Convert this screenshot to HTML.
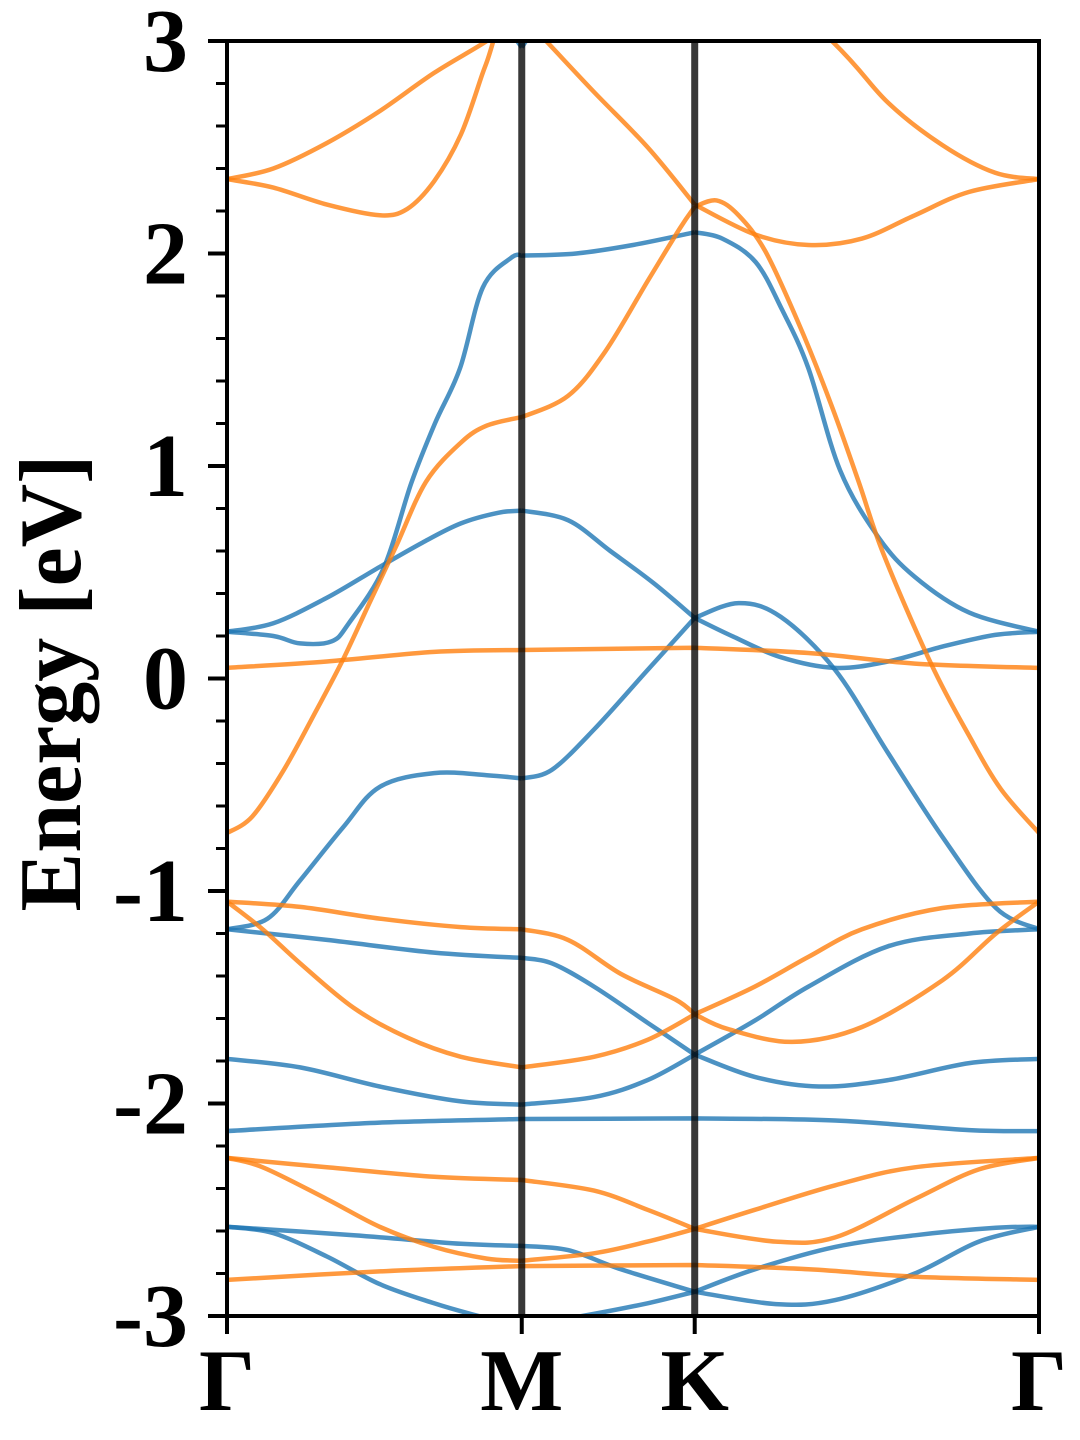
<!DOCTYPE html>
<html><head><meta charset="utf-8"><style>
html,body{margin:0;padding:0;background:#fff;}
svg{display:block;}
text{font-family:"Liberation Serif",serif;font-weight:bold;fill:#000;}
</style></head><body>
<svg id="chart" width="1080" height="1440" viewBox="0 0 1080 1440" xmlns="http://www.w3.org/2000/svg">
<defs><clipPath id="plotclip"><rect x="227" y="41" width="812" height="1275"/></clipPath></defs>
<g id="bands" clip-path="url(#plotclip)"></g>
<g id="axes"></g>
</svg>
<script>
// k-path tick positions (fraction of path) and labels
const kTicks = [0, 0.363, 0.576, 1];
const kLabels = ["Γ", "M", "K", "Γ"];
const yTicks = [-3, -2, -1, 0, 1, 2, 3];
const yTickLabels = ["-3", "-2", "-1", "0", "1", "2", "3"];
const yMin = -3, yMax = 3;
// band series: [k, E]
const bandA = [[0,2.35],[.057,2.40],[.123,2.52],[.188,2.67],[.255,2.85],[.320,3.0],[.363,3.12],[.393,3.0],[.452,2.76],[.518,2.50],[.576,2.23],[.650,2.09],[.716,2.04],[.782,2.07],[.847,2.18],[.914,2.29],[1,2.35]];
const bandB = [[0,2.35],[.057,2.31],[.123,2.23],[.188,2.18],[.222,2.21],[.255,2.34],[.288,2.56],[.314,2.84],[.328,3.0],[.363,3.5],[.576,3.6],[.745,3.0],[.814,2.71],[.881,2.51],[.946,2.38],[1,2.35]];
const bandC = [[.30,3.3],[.363,2.97],[.42,3.3]];
const bandD = [[0,.22],[.057,.20],[.09,.165],[.129,.175],[.150,.26],[.193,.52],[.227,.92],[.256,1.20],[.287,1.46],[.315,1.84],[.35,1.98],[.363,1.99],[.43,2.00],[.50,2.04],[.576,2.10],[.61,2.07],[.651,1.96],[.683,1.74],[.716,1.46],[.755,.98],[.802,.666],[.847,.478],[.914,.31],[1,.22]];
const bandE = [[0,-.727],[.031,-.65],[.070,-.43],[.110,-.15],[.143,.09],[.176,.36],[.208,.62],[.245,.925],[.288,1.11],[.320,1.19],[.363,1.23],[.420,1.33],[.466,1.54],[.518,1.87],[.558,2.12],[.576,2.22],[.603,2.25],[.630,2.18],[.663,2.01],[.703,1.68],[.743,1.30],[.778,.925],[.808,.59],[.867,.07],[.914,-.27],[.953,-.52],[1,-.727]];
const bandF = [[0,.22],[.057,.26],[.123,.38],[.188,.525],[.241,.64],[.288,.73],[.334,.78],[.363,.79],[.420,.745],[.472,.60],[.525,.45],[.576,.285],[.624,.196],[.682,.10],[.749,.05],[.814,.08],[.881,.15],[.946,.205],[1,.22]];
const bandG = [[0,-1.18],[.050,-1.13],[.090,-.95],[.143,-.70],[.188,-.51],[.255,-.445],[.320,-.455],[.363,-.47],[.400,-.43],[.452,-.24],[.518,.04],[.576,.285],[.630,.355],[.682,.29],[.749,.04],[.814,-.35],[.881,-.745],[.947,-1.08],[1,-1.18]];
const bandH = [[0,.05],[.123,.08],[.255,.125],[.363,.134],[.576,.145],[.716,.12],[.847,.07],[1,.05]];
const bandI = [[0,-1.05],[.090,-1.075],[.188,-1.13],[.288,-1.17],[.363,-1.18],[.420,-1.23],[.485,-1.39],[.552,-1.51],[.576,-1.58],[.617,-1.65],[.696,-1.71],[.782,-1.64],[.881,-1.42],[.947,-1.20],[1,-1.05]];
const bandJ = [[0,-1.05],[.044,-1.18],[.090,-1.34],[.156,-1.55],[.222,-1.69],[.288,-1.78],[.363,-1.83],[.452,-1.78],[.518,-1.70],[.576,-1.58],[.650,-1.45],[.716,-1.31],[.782,-1.18],[.881,-1.08],[1,-1.05]];
const bandK = [[0,-1.18],[.123,-1.23],[.255,-1.29],[.363,-1.315],[.400,-1.34],[.452,-1.45],[.518,-1.62],[.576,-1.77],[.650,-1.875],[.729,-1.92],[.814,-1.89],[.914,-1.81],[1,-1.79]];
const bandL = [[0,-1.79],[.090,-1.83],[.188,-1.92],[.288,-1.99],[.363,-2.005],[.452,-1.97],[.518,-1.89],[.576,-1.77],[.650,-1.61],[.716,-1.45],[.814,-1.26],[.914,-1.20],[1,-1.18]];
const bandM = [[0,-2.13],[.188,-2.09],[.363,-2.073],[.576,-2.07],[.749,-2.08],[.914,-2.125],[1,-2.13]];
const bandN = [[0,-2.256],[.123,-2.30],[.255,-2.345],[.363,-2.36],[.452,-2.41],[.518,-2.50],[.576,-2.59],[.676,-2.65],[.749,-2.63],[.847,-2.45],[.926,-2.31],[1,-2.256]];
const bandO = [[0,-2.256],[.044,-2.30],[.123,-2.45],[.188,-2.58],[.255,-2.675],[.320,-2.73],[.363,-2.74],[.452,-2.705],[.518,-2.65],[.576,-2.59],[.650,-2.50],[.749,-2.385],[.847,-2.30],[1,-2.256]];
const bandP = [[0,-2.83],[.188,-2.79],[.363,-2.765],[.576,-2.76],[.716,-2.78],[.847,-2.815],[1,-2.83]];
const bandQ = [[0,-2.58],[.156,-2.62],[.288,-2.66],[.363,-2.67],[.420,-2.69],[.485,-2.78],[.576,-2.886],[.676,-2.944],[.749,-2.925],[.847,-2.80],[.926,-2.65],[1,-2.58]];
const bandR = [[0,-2.58],[.057,-2.61],[.123,-2.72],[.188,-2.85],[.255,-2.94],[.300,-2.99],[.363,-3.05],[.452,-2.99],[.518,-2.94],[.576,-2.886],[.650,-2.78],[.749,-2.675],[.847,-2.62],[.947,-2.585],[1,-2.58]];
const blueBands = [bandC, bandD, bandF, bandG, bandK, bandL, bandM, bandQ, bandR];
const orangeBands = [bandA, bandB, bandE, bandH, bandI, bandJ, bandN, bandO, bandP];

const X0 = 227, X1 = 1039, Y0 = 1316, Y1 = 41;
function xs(k){ return X0 + k * (X1 - X0); }
function ys(e){ return Y0 - (e - yMin) / (yMax - yMin) * (Y0 - Y1); }
const NS = "http://www.w3.org/2000/svg";
function mk(tag, attrs, parent){ const el = document.createElementNS(NS, tag); for (const a in attrs) el.setAttribute(a, attrs[a]); parent.appendChild(el); return el; }

function smoothPath(pts){
  const segs = []; let cur = [pts[0]];
  for (let i = 1; i < pts.length; i++){
    cur.push(pts[i]);
    if (i < pts.length - 1 && (Math.abs(pts[i][0] - kTicks[1]) < 1e-6 || Math.abs(pts[i][0] - kTicks[2]) < 1e-6)){ segs.push(cur); cur = [pts[i]]; }
  }
  segs.push(cur);
  let d = "";
  segs.forEach(s => {
    const P = s.map(p => [xs(p[0]), ys(p[1])]);
    d += "M" + P[0][0].toFixed(1) + "," + P[0][1].toFixed(1);
    for (let i = 0; i < P.length - 1; i++){
      const p0 = P[i - 1] || P[i], p1 = P[i], p2 = P[i + 1], p3 = P[i + 2] || P[i + 1];
      const c1 = [p1[0] + (p2[0] - p0[0]) / 6, p1[1] + (p2[1] - p0[1]) / 6];
      const c2 = [p2[0] - (p3[0] - p1[0]) / 6, p2[1] - (p3[1] - p1[1]) / 6];
      d += "C" + c1[0].toFixed(1) + "," + c1[1].toFixed(1) + " " + c2[0].toFixed(1) + "," + c2[1].toFixed(1) + " " + p2[0].toFixed(1) + "," + p2[1].toFixed(1);
    }
  });
  return d;
}

const gB = document.getElementById("bands");
blueBands.forEach((b, i) => {
  const p = mk("path", {d: smoothPath(b), fill: "none", stroke: "#1f77b4", "stroke-width": 4.5, "stroke-opacity": 0.8, "stroke-linejoin": "round"}, gB);
  
  
});
orangeBands.forEach((b, i) => {
  const p = mk("path", {d: smoothPath(b), fill: "none", stroke: "#ff7f0e", "stroke-width": 4.5, "stroke-opacity": 0.8, "stroke-linejoin": "round"}, gB);
  
  
});
[kTicks[1], kTicks[2]].forEach((k, i) => {
  const l = mk("line", {x1: xs(k), x2: xs(k), y1: Y1, y2: Y0, stroke: "#000", "stroke-width": 7, "stroke-opacity": 0.78}, gB);
  
  
});

const gA = document.getElementById("axes");
const frame = mk("rect", {x: X0, y: Y1, width: X1 - X0, height: Y0 - Y1, fill: "none", stroke: "#000", "stroke-width": 4}, gA);


for (let v = yMin; v <= yMax + 1e-9; v += 0.2){
  const t = mk("line", {x1: X0 - 11, x2: X0, y1: ys(v), y2: ys(v), stroke: "#000", "stroke-width": 3}, gA);
  
  
}
yTicks.forEach((v, i) => {
  const t = mk("line", {x1: X0 - 19, x2: X0, y1: ys(v), y2: ys(v), stroke: "#000", "stroke-width": 4}, gA);
  
  
  const tx = mk("text", {x: 188, y: ys(v) + 30, "text-anchor": "end", "font-size": 90}, gA);
  tx.textContent = yTickLabels[i];
  
  
});
kTicks.forEach((k, i) => {
  const t = mk("line", {x1: xs(k), x2: xs(k), y1: Y0, y2: Y0 + 18, stroke: "#000", "stroke-width": 4}, gA);
  
  
  const tx = mk("text", {x: xs(k), y: 1410, "text-anchor": "middle", "font-size": 88}, gA);
  tx.textContent = kLabels[i];
  
  
});
const yl = mk("text", {x: 0, y: 0, "text-anchor": "middle", "font-size": 88, transform: "translate(80,683) rotate(-90)"}, gA);
yl.textContent = "Energy [eV]";


</script>
</body></html>
